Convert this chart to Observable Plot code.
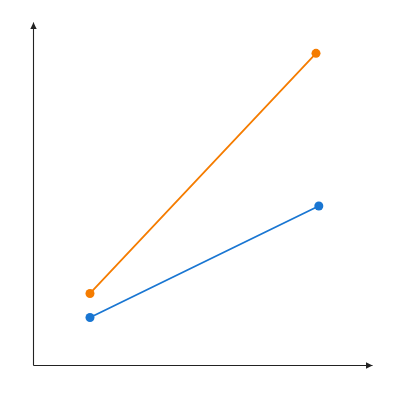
<!DOCTYPE html>
<html>
<head>
<meta charset="utf-8">
<script src="https://cdn.jsdelivr.net/npm/d3@7"></script>
<script src="https://cdn.jsdelivr.net/npm/@observablehq/plot@0.6"></script>
<style>
  html, body { margin: 0; padding: 0; background: #fff; }
  #chart { width: 400px; height: 400px; }
</style>
</head>
<body>
<div id="chart"></div>
<script>
const seriesNames = ["Series A", "Series B"];
const seriesColors = ["#f57c00", "#1976d2"];
const seriesAX = [1, 5];
const seriesAY = [2.1, 9.1];
const seriesBX = [1, 5.05];
const seriesBY = [1.4, 4.65];
const xDomain = [0, 6];
const yDomain = [0, 10];

const data = [];
seriesAX.forEach((x, i) => data.push({series: seriesNames[0], x, y: seriesAY[i]}));
seriesBX.forEach((x, i) => data.push({series: seriesNames[1], x, y: seriesBY[i]}));

const axes = [
  {x1: xDomain[0], y1: yDomain[0], x2: xDomain[0], y2: yDomain[1]},
  {x1: xDomain[0], y1: yDomain[0], x2: xDomain[1], y2: yDomain[0]}
];

function triangleMarker(color, context) {
  const doc = (context && context.document) || document;
  const ns = "http://www.w3.org/2000/svg";
  const m = doc.createElementNS(ns, "marker");
  m.setAttribute("viewBox", "-8 -5 10 10");
  m.setAttribute("markerWidth", "10");
  m.setAttribute("markerHeight", "10");
  m.setAttribute("markerUnits", "userSpaceOnUse");
  m.setAttribute("refX", "0");
  m.setAttribute("refY", "0");
  m.setAttribute("orient", "auto");
  m.setAttribute("overflow", "visible");
  const p = doc.createElementNS(ns, "path");
  p.setAttribute("d", "M-6.5,-3.2L0,0L-6.5,3.2Z");
  p.setAttribute("fill", color);
  p.setAttribute("stroke", "none");
  m.appendChild(p);
  return m;
}

const chart = Plot.plot({
  width: 400,
  height: 400,
  marginLeft: 33,
  marginRight: 28,
  marginTop: 22,
  marginBottom: 35,
  x: {domain: xDomain, axis: null},
  y: {domain: yDomain, axis: null},
  color: {domain: seriesNames, range: seriesColors},
  marks: [
    Plot.link(axes, {x1: "x1", y1: "y1", x2: "x2", y2: "y2", stroke: "#222", strokeWidth: 1.1, markerEnd: triangleMarker}),
    Plot.line(data, {x: "x", y: "y", z: "series", stroke: "series", strokeWidth: 1.8}),
    Plot.dot(data, {x: "x", y: "y", fill: "series", r: 4.5, stroke: "none"})
  ]
});
document.getElementById("chart").appendChild(chart);
</script>
</body>
</html>
